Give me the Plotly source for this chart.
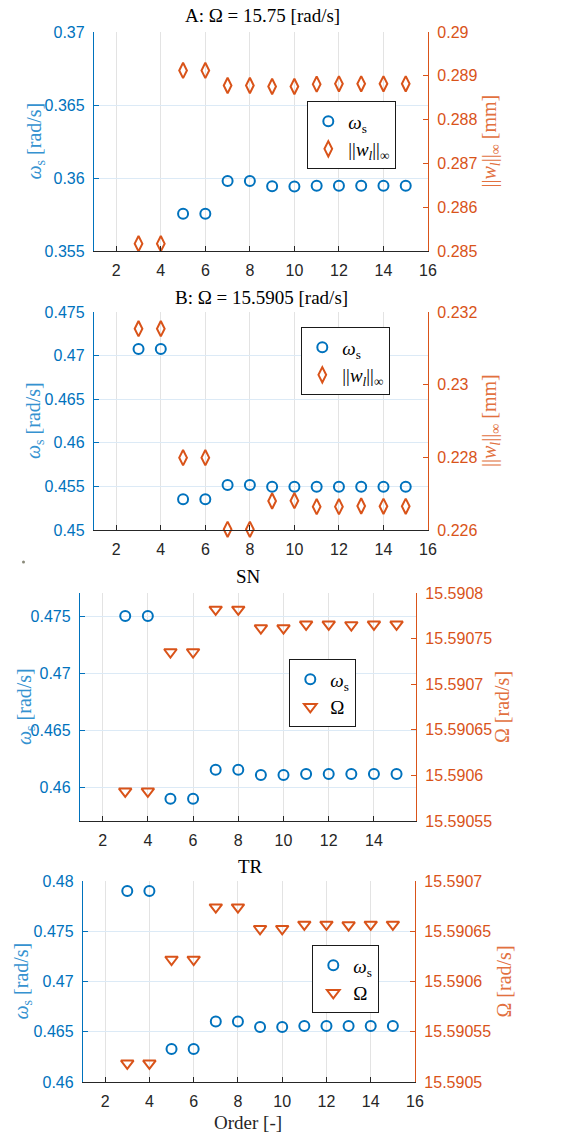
import plotly.graph_objects as go

W, H = 561, 1135

# ---------------- data ----------------
orders = [3, 4, 5, 6, 7, 8, 9, 10, 11, 12, 13, 14, 15]

A_ws = [0.3701, 0.3701, 0.35755, 0.35755, 0.35979, 0.35979, 0.35943, 0.35942,
        0.35947, 0.35947, 0.35947, 0.35947, 0.35947]
A_wl = [0.285168, 0.285168, 0.289122, 0.289122, 0.288779, 0.288779, 0.288756,
        0.288756, 0.288809, 0.288817, 0.288817, 0.288817, 0.288817]

B_ws = [0.47076, 0.47076, 0.45352, 0.45352, 0.45516, 0.45516, 0.45497, 0.45497,
        0.45497, 0.45497, 0.45497, 0.45497, 0.45497]
B_wl = [0.231541, 0.231541, 0.227991, 0.227991, 0.226018, 0.226018, 0.226798,
        0.226807, 0.226642, 0.226642, 0.226660, 0.226652, 0.226652]

SN_ws = [0.47500, 0.47500, 0.45898, 0.45898, 0.46152, 0.46152, 0.46105, 0.46105,
         0.46114, 0.46114, 0.46114, 0.46114, 0.46114]
SN_Om = [15.5905825, 15.5905825, 15.5907353, 15.5907353, 15.5907820, 15.5907820,
         15.5907616, 15.5907616, 15.5907656, 15.5907656, 15.5907649, 15.5907656,
         15.5907656]

TR_ws = [0.47900, 0.47900, 0.46329, 0.46329, 0.46601, 0.46601, 0.46548, 0.46548,
         0.46558, 0.46558, 0.46558, 0.46558, 0.46558]
TR_Om = [15.5905186, 15.5905186, 15.5906219, 15.5906219, 15.5906740, 15.5906740,
         15.5906525, 15.5906525, 15.5906568, 15.5906568, 15.5906562, 15.5906568,
         15.5906568]

x_ticks = [2, 4, 6, 8, 10, 12, 14, 16]

A_left_ticks = [0.355, 0.36, 0.365, 0.37]
A_left_text = ["0.355", "0.36", "0.365", "0.37"]
A_right_ticks = [0.285, 0.286, 0.287, 0.288, 0.289, 0.29]
A_right_text = ["0.285", "0.286", "0.287", "0.288", "0.289", "0.29"]

B_left_ticks = [0.45, 0.455, 0.46, 0.465, 0.47, 0.475]
B_left_text = ["0.45", "0.455", "0.46", "0.465", "0.47", "0.475"]
B_right_ticks = [0.226, 0.228, 0.23, 0.232]
B_right_text = ["0.226", "0.228", "0.23", "0.232"]

SN_left_ticks = [0.46, 0.465, 0.47, 0.475]
SN_left_text = ["0.46", "0.465", "0.47", "0.475"]
SN_right_ticks = [15.59055, 15.5906, 15.59065, 15.5907, 15.59075, 15.5908]
SN_right_text = ["15.59055", "15.5906", "15.59065", "15.5907", "15.59075", "15.5908"]

TR_left_ticks = [0.46, 0.465, 0.47, 0.475, 0.48]
TR_left_text = ["0.46", "0.465", "0.47", "0.475", "0.48"]
TR_right_ticks = [15.5905, 15.59055, 15.5906, 15.59065, 15.5907]
TR_right_text = ["15.5905", "15.59055", "15.5906", "15.59065", "15.5907"]

titles = ["A: Ω = 15.75 [rad/s]", "B: Ω = 15.5905 [rad/s]", "SN", "TR"]

# ---------------- style ----------------
BLUE = "#0072BD"
ORANGE = "#D95319"
BLUE_T = "#3592D0"
ORANGE_T = "#E2713F"
DARK = "#262626"
SANS = "Liberation Sans, Arial, sans-serif"
SERIF = "Liberation Serif, Times New Roman, serif"


def px(x):
    return x / W


def py(y):
    return 1 - y / H


panels = [
    dict(box=(94, 428, 32, 251), xr=[1, 16], lr=[0.355, 0.37], rr=[0.285, 0.29],
         ws=A_ws, sec=A_wl, lt=(A_left_ticks, A_left_text), rt=(A_right_ticks, A_right_text),
         sym="diamond-tall-open", secname="||<i>w</i><sub><i>l</i></sub>||<sub>∞</sub>",
         rtitle="||<i>w</i><sub><i>l</i></sub>||<sub>∞</sub> [mm]",
         leg=(307, 101), title_xy=(262, 16), lx=35, rx=490),
    dict(box=(94, 428, 312, 530), xr=[1, 16], lr=[0.45, 0.475], rr=[0.226, 0.232],
         ws=B_ws, sec=B_wl, lt=(B_left_ticks, B_left_text), rt=(B_right_ticks, B_right_text),
         sym="diamond-tall-open", secname="||<i>w</i><sub><i>l</i></sub>||<sub>∞</sub>",
         rtitle="||<i>w</i><sub><i>l</i></sub>||<sub>∞</sub> [mm]",
         leg=(301, 327), title_xy=(261, 297), lx=35, rx=491),
    dict(box=(80, 416, 593, 821), xr=[1, 15.86], lr=[0.45702, 0.47702],
         rr=[15.59055, 15.5908],
         ws=SN_ws, sec=SN_Om, lt=(SN_left_ticks, SN_left_text), rt=(SN_right_ticks, SN_right_text),
         sym="triangle-down-open", secname="Ω", rtitle="Ω [rad/s]",
         leg=(289, 659), title_xy=(248, 576), lx=25, rx=502),
    dict(box=(83, 415, 881, 1082), xr=[1, 16], lr=[0.46, 0.48], rr=[15.5905, 15.5907],
         ws=TR_ws, sec=TR_Om, lt=(TR_left_ticks, TR_left_text), rt=(TR_right_ticks, TR_right_text),
         sym="triangle-down-open", secname="Ω", rtitle="Ω [rad/s]",
         leg=(312, 945), title_xy=(250, 866), lx=22, rx=503),
]

fig = go.Figure()
layout = dict(
    width=W, height=H, margin=dict(l=0, r=0, t=0, b=0, pad=0, autoexpand=False),
    paper_bgcolor="white", plot_bgcolor="white", showlegend=True,
)
annotations = []

for i, p in enumerate(panels):
    k = i + 1
    xname = "xaxis" if k == 1 else f"xaxis{k}"
    xref = "x" if k == 1 else f"x{k}"
    yl = 2 * k - 1
    yr = 2 * k
    ylname = "yaxis" if yl == 1 else f"yaxis{yl}"
    ylref = "y" if yl == 1 else f"y{yl}"
    yrname = f"yaxis{yr}"
    yrref = f"y{yr}"
    legname = "legend" if k == 1 else f"legend{k}"
    x0, x1, y0, y1 = p["box"]

    layout[xname] = dict(
        domain=[px(x0), px(x1)], range=p["xr"], anchor=ylref, automargin=False,
        tickvals=x_ticks, ticktext=[str(v) for v in x_ticks],
        showgrid=True, gridcolor="#E3E3E3", gridwidth=1, zeroline=False,
        showline=True, linecolor=DARK, linewidth=1,
        ticks="inside", ticklen=5, tickcolor=DARK,
        tickfont=dict(family=SANS, size=16, color=DARK), ticklabelstandoff=5,
    )
    layout[ylname] = dict(
        domain=[py(y1), py(y0)], range=p["lr"], anchor=xref, automargin=False,
        tickvals=p["lt"][0], ticktext=p["lt"][1],
        showgrid=True, gridcolor="#DCEAF6", gridwidth=1, zeroline=False,
        showline=True, linecolor=BLUE, linewidth=1.3,
        ticks="inside", ticklen=5, tickcolor=BLUE,
        tickfont=dict(family=SANS, size=16, color=BLUE), ticklabelstandoff=5,
    )
    layout[yrname] = dict(
        range=p["rr"], anchor=xref, overlaying=ylref, side="right", automargin=False,
        tickvals=p["rt"][0], ticktext=p["rt"][1],
        showgrid=False, zeroline=False,
        showline=True, linecolor=ORANGE, linewidth=1.3,
        ticks="inside", ticklen=5, tickcolor=ORANGE,
        tickfont=dict(family=SANS, size=16, color=ORANGE), ticklabelstandoff=5,
    )
    lx0, ly0 = p["leg"]
    layout[legname] = dict(
        x=px(lx0), y=py(ly0), xanchor="left", yanchor="top",
        bgcolor="white", bordercolor="#1a1a1a", borderwidth=1.3,
        font=dict(family=SERIF, size=19, color="black"),
        itemwidth=30, tracegroupgap=0,
    )

    fig.add_trace(go.Scatter(
        x=orders, y=p["ws"], xaxis=xref, yaxis=ylref, mode="markers",
        name="<i>ω</i><sub>s</sub>", legend=legname, cliponaxis=False,
        marker=dict(symbol="circle-open", size=10, color=BLUE, line=dict(width=2, color=BLUE)),
    ))
    fig.add_trace(go.Scatter(
        x=orders, y=p["sec"], xaxis=xref, yaxis=yrref, mode="markers",
        name=p["secname"], legend=legname, cliponaxis=False,
        marker=dict(symbol=p["sym"], size=11,
                    color=ORANGE, line=dict(width=2, color=ORANGE)),
    ))

    tx, ty = p["title_xy"]
    annotations.append(dict(
        text=titles[i], x=px(tx), y=py(ty), xref="paper", yref="paper",
        xanchor="center", yanchor="middle", showarrow=False,
        font=dict(family=SERIF, size=19, color="black"),
    ))
    ymid = (y0 + y1) / 2
    annotations.append(dict(
        text="<i>ω</i><sub>s</sub> [rad/s]", x=px(p["lx"]), y=py(ymid),
        xref="paper", yref="paper", xanchor="center", yanchor="middle",
        textangle=-90, showarrow=False,
        font=dict(family=SERIF, size=20, color=BLUE_T),
    ))
    annotations.append(dict(
        text=p["rtitle"], x=px(p["rx"]), y=py(ymid),
        xref="paper", yref="paper", xanchor="center", yanchor="middle",
        textangle=-90, showarrow=False,
        font=dict(family=SERIF, size=20, color=ORANGE_T),
    ))

annotations.append(dict(
    text="Order [-]", x=px(248), y=py(1122), xref="paper", yref="paper",
    xanchor="center", yanchor="middle", showarrow=False,
    font=dict(family=SERIF, size=19, color=DARK),
))

layout["annotations"] = annotations
layout["shapes"] = [dict(
    type="circle", xref="paper", yref="paper",
    x0=px(22), x1=px(25), y0=py(563.5), y1=py(560.5),
    fillcolor="#8a8a7a", line=dict(width=0),
)]

fig.update_layout(**layout)
fig.write_html(
    "out.html",
    config={"displayModeBar": False},
    post_script="document.body.style.margin='0';document.body.style.overflow='hidden';",
)
